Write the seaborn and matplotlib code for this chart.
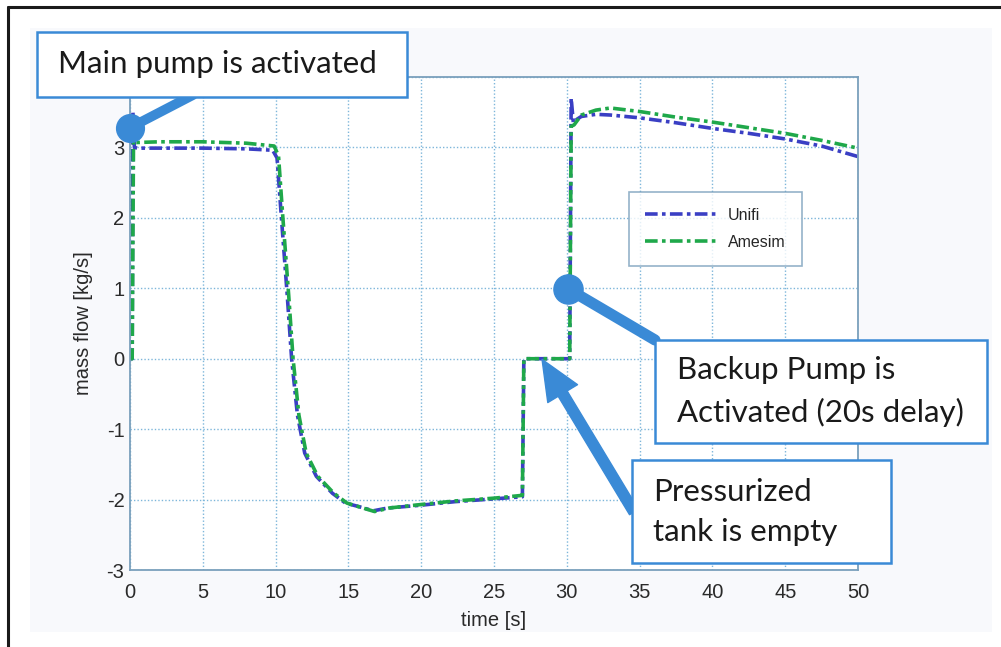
import numpy as np
import pandas as pd
import matplotlib
matplotlib.use("Agg")
import matplotlib.pyplot as plt
from matplotlib.patches import Rectangle
from matplotlib.lines import Line2D
import seaborn as sns

# time [s] and mass flow [kg/s]
time_unifi = [0, 0.15, 0.2, 0.3, 0.5, 2, 5, 8, 9.8, 10.1, 10.4, 10.8, 11.1, 11.5, 12, 12.8,
              13.9, 14.8, 15.9, 16.7, 17.7, 20, 22.3, 25, 26.95, 27.05, 28, 30.2, 30.3,
              30.45, 30.7, 31, 32, 33, 35, 37.5, 40, 42.5, 45, 47.5, 50]
flow_unifi = [0, 0, 3.5, 3.0, 2.99, 2.99, 2.99, 2.98, 2.96, 2.85, 2.0, 0.9, 0.0, -0.8, -1.34,
              -1.67, -1.91, -2.05, -2.11, -2.16, -2.12, -2.08, -2.03, -1.99, -1.96, 0.0, 0.0,
              0.0, 3.7, 3.35, 3.4, 3.44, 3.47, 3.46, 3.42, 3.35, 3.27, 3.2, 3.12, 3.02, 2.87]

time_amesim = [0, 0.15, 0.25, 0.35, 0.5, 2, 5, 8, 9.9, 10.2, 10.5, 10.9, 11.2, 11.6, 12.1,
               12.9, 14.0, 14.9, 16.0, 16.8, 17.8, 20, 22.3, 25, 26.95, 27.05, 28, 30.2,
               30.3, 30.5, 31, 32, 33, 35, 37.5, 40, 42.5, 45, 47.5, 50]
flow_amesim = [0, 0, 3.4, 3.07, 3.07, 3.08, 3.08, 3.06, 3.02, 2.88, 2.0, 0.9, 0.0, -0.8, -1.34,
               -1.67, -1.91, -2.05, -2.12, -2.17, -2.12, -2.07, -2.02, -1.98, -1.94, 0.0, 0.0,
               0.0, 3.3, 3.32, 3.46, 3.53, 3.56, 3.51, 3.43, 3.36, 3.28, 3.2, 3.1, 2.99]

x_ticks = [0, 5, 10, 15, 20, 25, 30, 35, 40, 45, 50]
y_ticks = [-3, -2, -1, 0, 1, 2, 3, 4]
# the "4" label sits under the first callout box in the reference
y_ticklabels = ["-3", "-2", "-1", "0", "1", "2", "3", ""]

df = pd.concat([
    pd.DataFrame({"time": time_unifi, "flow": flow_unifi, "model": "Unifi"}),
    pd.DataFrame({"time": time_amesim, "flow": flow_amesim, "model": "Amesim"}),
])

sns.set_style("white")
plt.rcParams["font.family"] = ["Liberation Sans", "DejaVu Sans"]

W, H = 1001, 647
fig = plt.figure(figsize=(W / 100, H / 100), dpi=100)
fig.patch.set_facecolor("white")


def fx(x):
    return x / W


def fy(y):
    return 1 - y / H


# page background and frame
fig.add_artist(Rectangle((fx(30), fy(632)), fx(962), 604 / H, transform=fig.transFigure,
                         facecolor="#f8f9fc", edgecolor="none", zorder=-2))
fig.add_artist(Line2D([fx(8), fx(8)], [fy(7), 0], transform=fig.transFigure, color="#1a1a1a", lw=2.2))
fig.add_artist(Line2D([fx(8), 1], [fy(7), fy(7)], transform=fig.transFigure, color="#1a1a1a", lw=2.2))

ax = fig.add_axes([fx(130), fy(570), fx(858) - fx(130), fy(77) - fy(570)])
ax.set_facecolor("white")

dashdot = (0, (3.5, 1.2, 1.0, 1.2))
palette = {"Unifi": "#3a3fc4", "Amesim": "#1fa84a"}
sns.lineplot(data=df, x="time", y="flow", hue="model", palette=palette, sort=False,
             estimator=None, lw=2.6, ax=ax, legend=True)
for line in ax.get_lines():
    line.set_linestyle(dashdot)

ax.set_xlim(0, 50)
ax.set_ylim(-3, 4)
ax.set_xticks(x_ticks)
ax.set_yticks(y_ticks)
ax.set_yticklabels(y_ticklabels)
ax.grid(True, color="#7db6da", ls=(0, (1, 1.5)), lw=1.0)
for s in ax.spines.values():
    s.set_color("#7aa0bc")
    s.set_linewidth(1.3)
ax.tick_params(axis="both", labelsize=14.5, colors="#7aa0bc", labelcolor="#2a2a2a",
               direction="in", length=4)
ax.tick_params(axis="x", pad=9)
ax.tick_params(axis="y", pad=4)
ax.set_xlabel("time [s]", fontsize=14.5, color="#2a2a2a", labelpad=7)
ax.set_ylabel("mass flow [kg/s]", fontsize=14.5, color="#2a2a2a", labelpad=10)

handles, labels = ax.get_legend_handles_labels()
for h in handles:
    h.set_linestyle(dashdot)
leg = ax.legend(handles, labels, loc="upper left", bbox_to_anchor=(fx(629), fy(192)),
                bbox_transform=fig.transFigure, fontsize=11.5, frameon=True, fancybox=False,
                handlelength=4.6, handletextpad=0.6, borderpad=1.0, labelspacing=0.75,
                borderaxespad=0)
leg.get_frame().set_edgecolor("#7aa0bc")
leg.get_frame().set_linewidth(1.2)
leg.get_frame().set_boxstyle("square", pad=0)

# callouts
blue = "#3a8ad6"
ann_font = ["Lato", "DejaVu Sans"]

ax.annotate("", xy=(0, 3.28), xytext=(193, H - 95), textcoords="figure pixels",
            arrowprops=dict(arrowstyle="-", color=blue, lw=7, shrinkA=0, shrinkB=0),
            annotation_clip=False)
ax.plot([0], [3.28], "o", ms=20, color=blue, clip_on=False, zorder=6)

ax.annotate("", xy=(30.1, 0.99), xytext=(655, H - 340), textcoords="figure pixels",
            arrowprops=dict(arrowstyle="-", color=blue, lw=8, shrinkA=0, shrinkB=0),
            annotation_clip=False)
ax.plot([30.1], [0.99], "o", ms=21, color=blue, clip_on=False, zorder=6)

ax.annotate("", xy=(28.3, -0.01), xytext=(634, H - 512), textcoords="figure pixels",
            arrowprops=dict(arrowstyle="simple,head_length=1.15,head_width=1.0,tail_width=0.3",
                            mutation_scale=25, color=blue, shrinkA=0, shrinkB=0),
            annotation_clip=False)

boxes = [
    (37, 32, 407, 97, ["Main pump is activated"], 58, [64]),
    (655, 340, 987, 443, ["Backup Pump is", "Activated (20s delay)"], 677, [370, 412]),
    (632, 460, 891, 563, ["Pressurized", "tank is empty"], 653, [492, 532]),
]
for x0, y0, x1, y1, lines, tx, tys in boxes:
    fig.add_artist(Rectangle((fx(x0), fy(y1)), fx(x1 - x0), (y1 - y0) / H,
                             transform=fig.transFigure, facecolor="white",
                             edgecolor=blue, lw=1.8, zorder=5))
    for txt, ty in zip(lines, tys):
        fig.text(fx(tx), fy(ty), txt, ha="left", va="center", fontsize=22.5,
                 family=ann_font, color="#1a1a1a", zorder=6)

fig.savefig("out.png", dpi=100)
